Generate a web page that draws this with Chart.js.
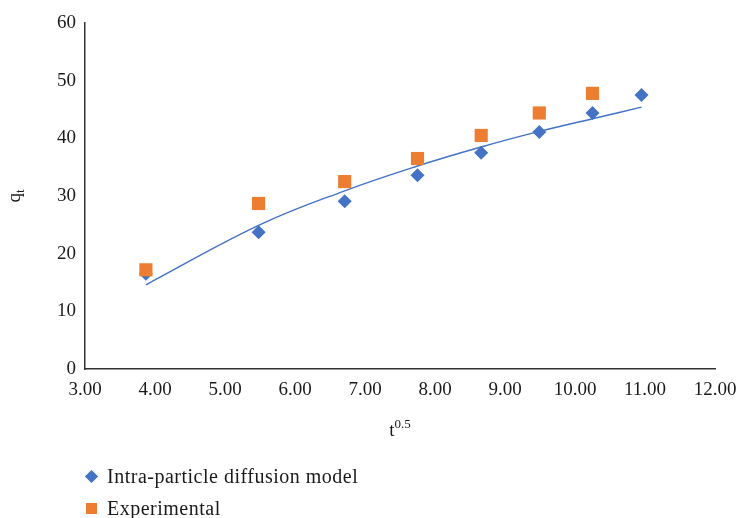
<!DOCTYPE html>
<html>
<head>
<meta charset="utf-8">
<script src="https://cdn.jsdelivr.net/npm/chart.js@4"></script>
<style>
  html, body { margin: 0; padding: 0; background: #fff; }
  #wrap { position: relative; width: 739px; height: 518px; }
  #legend { position: absolute; left: 84px; top: 460px; font-family: "Liberation Serif", serif; font-size: 20px; letter-spacing: 0.5px; color: #1a1a1a; }
  .item { display: flex; align-items: center; height: 32px; }
  .mark { width: 11px; height: 11px; margin-right: 10px; margin-left: 2px; }
  .diamond { transform: rotate(45deg) scale(0.85, 0.85); }
</style>
</head>
<body>
<div id="wrap">
  <canvas id="chart" width="739" height="518"></canvas>
  <div id="legend"></div>
</div>
<script>
// t^0.5 values
const tSqrt = [3.87, 5.48, 6.71, 7.75, 8.66, 9.49, 10.25, 10.95];
const modelQt = [16.5, 23.7, 29.1, 33.6, 37.5, 41.1, 44.4, 47.5];
const expQt = [17.2, 28.7, 32.5, 36.5, 40.5, 44.4, 47.8];
const trendQt = [14.6, 24.9, 30.9, 35.2, 38.5, 41.2, 43.4, 45.4];

const blue = '#4472C4';
const orange = '#ED7D31';
const font = '"Liberation Serif", serif';
const textColor = '#1a1a1a';

const toXY = (xs, ys) => ys.map((y, i) => ({ x: xs[i], y: y }));

// axis titles with sub/superscripts
const axisTitles = {
    id: 'axisTitles',
    afterDraw(chart) {
        const { ctx, chartArea } = chart;
        ctx.save();
        ctx.fillStyle = textColor;
        ctx.textBaseline = 'alphabetic';
        // x title: t^0.5
        const cx = (chartArea.left + chartArea.right) / 2;
        ctx.font = '19px ' + font;
        const wT = ctx.measureText('t').width;
        ctx.font = '13px ' + font;
        const wS = ctx.measureText('0.5').width;
        const x0 = cx - (wT + wS) / 2;
        const by = chartArea.bottom + 67;
        ctx.font = '19px ' + font;
        ctx.fillText('t', x0, by);
        ctx.font = '13px ' + font;
        ctx.fillText('0.5', x0 + wT, by - 8);
        // y title: q_t
        ctx.translate(20, (chartArea.top + chartArea.bottom) / 2);
        ctx.rotate(-Math.PI / 2);
        ctx.font = '19px ' + font;
        const wq = ctx.measureText('q').width;
        ctx.font = '13px ' + font;
        const wt = ctx.measureText('t').width;
        ctx.font = '19px ' + font;
        ctx.fillText('q', -(wq + wt) / 2, 0);
        ctx.font = '13px ' + font;
        ctx.fillText('t', -(wq + wt) / 2 + wq, 4);
        ctx.restore();
    }
};

const chart = new Chart(document.getElementById('chart'), {
    type: 'scatter',
    data: {
        datasets: [
            {
                label: 'Experimental',
                data: toXY(tSqrt, expQt),
                pointStyle: 'rect',
                pointRadius: 9.3,
                backgroundColor: orange,
                borderColor: orange,
                borderWidth: 0,
                order: 0
            },
            {
                label: 'Intra-particle diffusion model',
                data: toXY(tSqrt, modelQt),
                pointStyle: 'rectRot',
                pointRadius: 7,
                backgroundColor: blue,
                borderColor: blue,
                borderWidth: 0,
                order: 1
            },
            {
                label: 'trend',
                data: toXY(tSqrt, trendQt),
                showLine: true,
                pointRadius: 0,
                borderColor: blue,
                borderWidth: 1.4,
                tension: 0.4,
                order: 2
            }
        ]
    },
    options: {
        responsive: false,
        animation: false,
        layout: { padding: { top: 23, right: 24, left: 0, bottom: 0 } },
        plugins: {
            legend: { display: false },
            tooltip: { enabled: false }
        },
        scales: {
            x: {
                type: 'linear',
                min: 3,
                max: 12,
                grid: { display: false, drawTicks: false },
                border: { display: true, color: '#333', width: 1.5 },
                ticks: {
                    stepSize: 1,
                    padding: 10,
                    color: textColor,
                    font: { family: font, size: 19 },
                    callback: v => v.toFixed(2)
                },
                afterFit: s => {
                    s.height = 149;
                    s.paddingLeft = 0;
                    s.paddingRight = 0;
                }
            },
            y: {
                min: 0,
                max: 60,
                grid: { display: false, drawTicks: false },
                border: { display: true, color: '#333', width: 1.5 },
                ticks: {
                    stepSize: 10,
                    padding: 9,
                    color: textColor,
                    font: { family: font, size: 19 }
                },
                afterFit: s => { s.width = 85; }
            }
        }
    },
    plugins: [axisTitles]
});

// legend built from the two marker datasets, model first
const legend = document.getElementById('legend');
[chart.data.datasets[1], chart.data.datasets[0]].forEach(ds => {
    const item = document.createElement('div');
    item.className = 'item';
    const mark = document.createElement('span');
    mark.className = 'mark' + (ds.pointStyle === 'rectRot' ? ' diamond' : '');
    mark.style.background = ds.backgroundColor;
    const label = document.createElement('span');
    label.textContent = ds.label;
    item.appendChild(mark);
    item.appendChild(label);
    legend.appendChild(item);
});
</script>
</body>
</html>
